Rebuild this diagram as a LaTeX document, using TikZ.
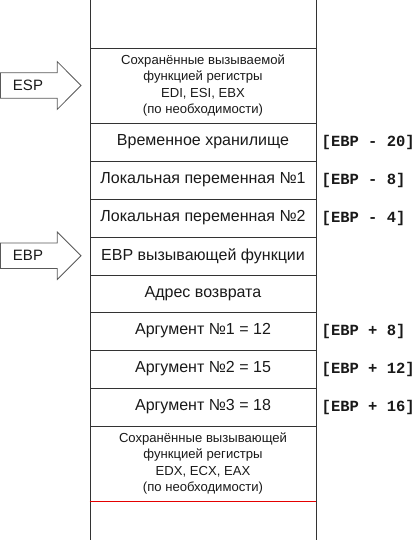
\documentclass[tikz,border=0pt]{standalone}
\usepackage{fontspec}
\setmainfont{Liberation Sans}
\newfontfamily\monob[BoldFont={Liberation Mono Bold}]{Liberation Mono}
\begin{document}
\begin{tikzpicture}[x=1pt,y=-1pt,
  linec/.style={draw=black!80, line width=0.9pt},
  cell/.style={linec, minimum width=226pt, inner sep=0pt, text=black!90,
    font=\fontsize{16}{18}\selectfont},
  rowc/.style={cell, minimum height=38pt},
  bigc/.style={cell, minimum height=75pt, align=center,
    font=\fontsize{13.1}{16.5}\selectfont},
  offs/.style={anchor=west, inner sep=0pt, text=black!90,
    font=\monob\bfseries\fontsize{15.5}{17}\selectfont},
  ptr/.style={draw=black!65, line width=0.8pt, fill=white, line join=miter},
  ptrtext/.style={inner sep=0pt, text=black!90, font=\fontsize{15}{17}\selectfont}]
\useasboundingbox (0,0) rectangle (418,540);
% cells
\node[bigc] (c1) at (203,85.5) {Сохранённые вызываемой\\функцией регистры\\EDI, ESI, EBX\\(по необходимости)};
\node[rowc] (c2) at (203,142) {Временное хранилище};
\node[rowc] (c3) at (203,180) {Локальная переменная №1};
\node[rowc] (c4) at (203,218) {Локальная переменная №2};
\node[rowc] (c5) at (203,256) {EBP вызывающей функции};
\node[rowc, minimum height=37pt] (c6) at (203,293.5) {Адрес возврата};
\node[rowc] (c7) at (203,331) {Аргумент №1 = 12};
\node[rowc] (c8) at (203,369) {Аргумент №2 = 15};
\node[rowc] (c9) at (203,407) {Аргумент №3 = 18};
\node[bigc, draw=none] (c10) at (203,463.5) {Сохранённые вызывающей\\функцией регистры\\EDX, ECX, EAX\\(по необходимости)};
% stack side walls
\coordinate (lt) at (90,0);
\coordinate (lb) at (90,540);
\coordinate (rt) at (316,0);
\coordinate (rb) at (316,540);
\draw[linec] (lt) -- (lb);
\draw[linec] (rt) -- (rb);
\draw[draw=red!90!black, line width=1.4pt] (c10.south west) -- (c10.south east);
% offsets
\node[offs] (o2) at (321.5,142) {[EBP - 20]};
\node[offs] (o3) at (321.5,180) {[EBP - 8]};
\node[offs] (o4) at (321.5,218) {[EBP - 4]};
\node[offs] (o7) at (321.5,331) {[EBP + 8]};
\node[offs] (o8) at (321.5,369) {[EBP + 12]};
\node[offs] (o9) at (321.5,407) {[EBP + 16]};
% pointer arrows
\draw[ptr] (0.5,72.7) -- (57.3,72.7) -- (57.3,61.7) -- (81,85.5) -- (57.3,109.3) -- (57.3,98.3) -- (0.5,98.3) -- cycle;
\node[ptrtext] (esp) at (28,85.5) {ESP};
\draw[ptr] (0.5,243) -- (57.3,243) -- (57.3,232) -- (81,255.7) -- (57.3,279.4) -- (57.3,268.4) -- (0.5,268.4) -- cycle;
\node[ptrtext] (ebp) at (28,255.7) {EBP};
\end{tikzpicture}
\end{document}
